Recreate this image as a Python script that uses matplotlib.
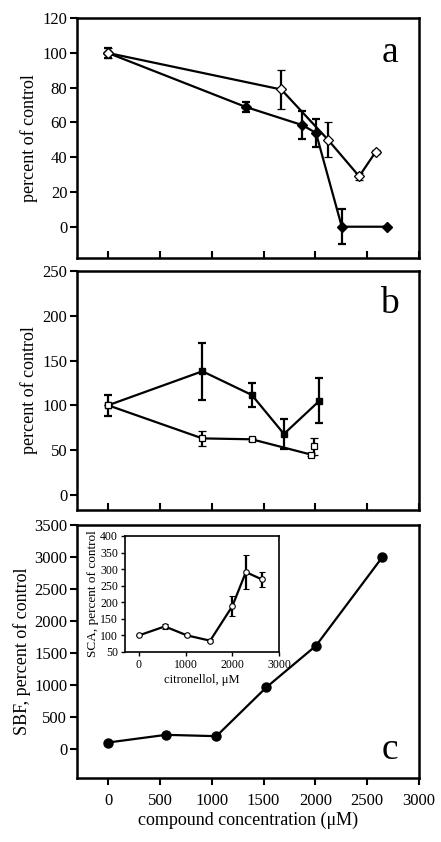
import matplotlib
matplotlib.use('Agg')
import matplotlib.pyplot as plt

plt.rcParams['font.family'] = ['Liberation Serif', 'DejaVu Serif']

# panel a - diamonds
a_fill_x = [0, 1326, 1874, 2006, 2255, 2690]
a_fill_y = [100, 69, 58.5, 54, 0, 0]
a_fill_err = [3, 3, 8, 8, 10, 0]
a_open_x = [0, 1671, 2123, 2423, 2581]
a_open_y = [100, 79, 50, 29, 43]
a_open_err = [3, 11, 10, 2, 1]

# panel b - squares
b_fill_x = [0, 910, 1387, 1697, 2039]
b_fill_y = [100, 138, 111.5, 68, 105]
b_fill_err = [12, 32, 13, 17, 25]
b_open_x = [0, 910, 1387, 1955]
b_open_y = [100, 63, 62, 45]
b_open_err = [0, 8, 2, 2]
b_extra_x = [1990]
b_extra_y = [54]
b_extra_err = [10]

# panel c - SBF
c_x = [0, 558, 1045, 1526, 2006, 2645]
c_y = [104, 224, 203, 964, 1615, 2995]

# inset - SCA, citronellol
ins_x = [0, 553, 1028, 1525, 2000, 2291, 2631]
ins_y = [100, 127, 100, 84, 188, 291, 269]
ins_err = [0, 7, 2, 5, 30, 50, 22]

xticks = [0, 500, 1000, 1500, 2000, 2500, 3000]

fig = plt.figure(figsize=(4.41, 8.42), dpi=100)
ax1 = fig.add_axes([0.1746, 0.6936, 0.7755, 0.2847])
ax2 = fig.add_axes([0.1746, 0.3943, 0.7755, 0.2838])
ax3 = fig.add_axes([0.1746, 0.0760, 0.7755, 0.3005])
ins = fig.add_axes([0.2834, 0.2257, 0.3492, 0.1378])

eb = dict(color='black', lw=1.6, capsize=3, capthick=1.6, elinewidth=1.6)

ax1.errorbar(a_fill_x, a_fill_y, yerr=a_fill_err, marker='D', ms=5,
             mfc='black', mec='black', **eb)
ax1.errorbar(a_open_x, a_open_y, yerr=a_open_err, marker='D', ms=5,
             mfc='white', mec='black', mew=0.9, **eb)
ax1.set_ylim(-18, 120)
ax1.set_yticks([0, 20, 40, 60, 80, 100, 120])
ax1.text(0.94, 0.855, 'a', transform=ax1.transAxes, fontsize=27,
         ha='right', va='center')

ax2.errorbar(b_fill_x, b_fill_y, yerr=b_fill_err, marker='s', ms=5,
             mfc='black', mec='black', **eb)
ax2.errorbar(b_open_x, b_open_y, yerr=b_open_err, marker='s', ms=5,
             mfc='white', mec='black', mew=0.9, **eb)
ax2.errorbar(b_extra_x, b_extra_y, yerr=b_extra_err, marker='s', ms=5,
             mfc='white', mec='black', mew=0.9, ls='none', **eb)
ax2.set_ylim(-17, 250)
ax2.set_yticks([0, 50, 100, 150, 200, 250])
ax2.text(0.94, 0.865, 'b', transform=ax2.transAxes, fontsize=27,
         ha='right', va='center')

ax3.plot(c_x, c_y, color='black', lw=1.6, marker='o', ms=6.5,
         mfc='black', mec='black')
ax3.set_ylim(-450, 3500)
ax3.set_yticks([0, 500, 1000, 1500, 2000, 2500, 3000, 3500])
ax3.text(0.94, 0.11, 'c', transform=ax3.transAxes, fontsize=27,
         ha='right', va='center')
ax3.set_xlabel('compound concentration (\u03bcM)', fontsize=13, labelpad=2)
ax3.set_ylabel('SBF, percent of control', fontsize=13, labelpad=2)

for ax in (ax1, ax2, ax3):
    ax.set_xlim(-300, 3000)
    ax.set_xticks(xticks)
    for s in ax.spines.values():
        s.set_linewidth(1.8)
    ax.tick_params(axis='y', direction='out', length=5, width=1.5,
                   labelsize=12, pad=2)

for ax in (ax1, ax2):
    ax.tick_params(axis='x', direction='in', length=5, width=1.5,
                   labelbottom=False)
    ax.set_ylabel('percent of control', fontsize=13, labelpad=3)

ax3.tick_params(axis='x', direction='out', length=5, width=1.5,
                labelsize=12, pad=6)

ins.errorbar(ins_x, ins_y, yerr=ins_err, marker='o', ms=4,
             mfc='white', mec='black', mew=0.8, color='black', lw=1.6,
             capsize=2.5, capthick=1.6, elinewidth=1.6)
ins.set_xlim(-300, 3000)
ins.set_ylim(50, 400)
ins.set_xticks([0, 1000, 2000, 3000])
ins.set_yticks([50, 100, 150, 200, 250, 300, 350, 400])
for s in ins.spines.values():
    s.set_linewidth(1.2)
ins.tick_params(axis='both', direction='out', length=3, width=1,
                labelsize=8.5, pad=2)
ins.set_xlabel('citronellol, \u03bcM', fontsize=9, labelpad=2)
ins.set_ylabel('SCA, percent of control', fontsize=9.5, labelpad=1)

fig.savefig('out.png', dpi=100)
